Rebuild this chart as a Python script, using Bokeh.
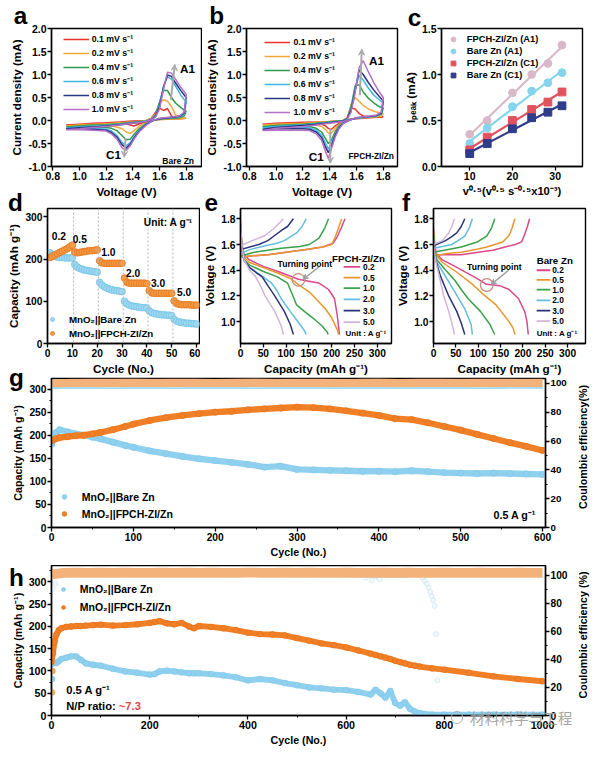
import numpy as np
from bokeh.plotting import figure
from bokeh.layouts import column, row
from bokeh.models import (Range1d, LinearAxis, Label, Legend, LegendItem, Arrow,
                          VeeHead, Span, FixedTicker, Div, PrintfTickFormatter)
from bokeh.embed import file_html
from bokeh.resources import INLINE

S = 0.973
FONT = "Liberation Sans"

# ---------------------------------------------------------------- data
SCAN_LABELS = ["0.1 mV s⁻¹", "0.2 mV s⁻¹", "0.4 mV s⁻¹", "0.6 mV s⁻¹", "0.8 mV s⁻¹", "1.0 mV s⁻¹"]
CV_COLORS = ["#e8342c", "#f2a93b", "#2f9a4c", "#3fb5e3", "#2a3580", "#b46fc6"]

# panel a : bare Zn CV (anodic sweep then cathodic sweep)
A_FWD_V = [0.9, 1.0, 1.1, 1.2, 1.3, 1.4, 1.5, 1.54, 1.57, 1.6, 1.63, 1.66, 1.69, 1.72, 1.76, 1.8]
A_FWD_I = [
    [-0.10, -0.08, -0.06, -0.05, -0.03, -0.01, 0.00, 0.05, 0.18, 0.27, 0.22, 0.26, 0.10, 0.05, 0.04, 0.05],
    [-0.12, -0.10, -0.08, -0.07, -0.05, -0.03, 0.00, 0.04, 0.15, 0.38, 0.45, 0.42, 0.30, 0.12, 0.06, 0.05],
    [-0.14, -0.12, -0.10, -0.09, -0.07, -0.04, -0.01, 0.03, 0.12, 0.40, 0.66, 0.65, 0.50, 0.38, 0.28, 0.20],
    [-0.16, -0.14, -0.12, -0.11, -0.08, -0.05, -0.01, 0.03, 0.10, 0.35, 0.75, 0.95, 0.90, 0.75, 0.55, 0.40],
    [-0.18, -0.16, -0.14, -0.12, -0.09, -0.06, -0.02, 0.02, 0.09, 0.30, 0.72, 0.99, 0.96, 0.82, 0.65, 0.50],
    [-0.20, -0.18, -0.15, -0.13, -0.10, -0.06, -0.02, 0.02, 0.08, 0.25, 0.68, 1.05, 1.03, 0.90, 0.72, 0.57],
]
A_REV_V = [1.8, 1.785, 1.75, 1.7, 1.6, 1.55, 1.5, 1.45, 1.41, 1.38, 1.35, 1.32, 1.28, 1.24, 1.2, 1.1, 1.0, 0.9]
A_REV_I = [
    [0.05, 0.05, 0.04, 0.03, 0.02, 0.00, -0.03, -0.07, -0.12, -0.10, -0.07, -0.06, -0.08, -0.07, -0.06, -0.08, -0.09, -0.10],
    [0.05, 0.05, 0.04, 0.03, 0.02, 0.00, -0.05, -0.12, -0.22, -0.28, -0.25, -0.18, -0.14, -0.12, -0.11, -0.11, -0.12, -0.12],
    [0.20, 0.10, 0.06, 0.05, 0.03, 0.00, -0.07, -0.17, -0.30, -0.41, -0.42, -0.33, -0.22, -0.17, -0.15, -0.14, -0.14, -0.14],
    [0.40, 0.14, 0.08, 0.06, 0.04, 0.00, -0.08, -0.20, -0.35, -0.48, -0.55, -0.48, -0.32, -0.23, -0.19, -0.17, -0.16, -0.16],
    [0.50, 0.16, 0.09, 0.07, 0.04, 0.00, -0.09, -0.22, -0.38, -0.52, -0.60, -0.53, -0.36, -0.26, -0.21, -0.19, -0.18, -0.18],
    [0.57, 0.18, 0.10, 0.08, 0.05, 0.00, -0.10, -0.24, -0.40, -0.55, -0.65, -0.60, -0.40, -0.29, -0.23, -0.21, -0.20, -0.20],
]
# panel b : FPCH-ZI/Zn CV
B_FWD_V = [0.9, 1.0, 1.1, 1.2, 1.3, 1.4, 1.5, 1.53, 1.56, 1.59, 1.62, 1.65, 1.69, 1.73, 1.77, 1.8]
B_FWD_I = [
    [-0.08, -0.06, -0.05, -0.04, -0.03, -0.02, 0.00, 0.05, 0.28, 0.25, 0.15, 0.10, 0.08, 0.07, 0.07, 0.08],
    [-0.10, -0.08, -0.07, -0.06, -0.04, -0.02, 0.00, 0.05, 0.35, 0.50, 0.42, 0.33, 0.25, 0.20, 0.17, 0.15],
    [-0.13, -0.11, -0.09, -0.08, -0.06, -0.03, 0.00, 0.04, 0.30, 0.75, 0.78, 0.62, 0.48, 0.38, 0.30, 0.27],
    [-0.16, -0.13, -0.11, -0.10, -0.07, -0.04, -0.01, 0.03, 0.25, 0.70, 0.98, 0.88, 0.70, 0.55, 0.45, 0.38],
    [-0.19, -0.15, -0.13, -0.11, -0.08, -0.05, -0.01, 0.03, 0.22, 0.65, 1.10, 1.00, 0.82, 0.66, 0.52, 0.43],
    [-0.22, -0.17, -0.15, -0.13, -0.10, -0.06, -0.02, 0.02, 0.18, 0.60, 1.15, 1.30, 1.05, 0.82, 0.62, 0.50],
]
B_REV_V = [1.8, 1.785, 1.75, 1.7, 1.6, 1.55, 1.5, 1.47, 1.44, 1.41, 1.39, 1.37, 1.34, 1.3, 1.25, 1.2, 1.1, 1.0, 0.9]
B_REV_I = [
    [0.08, 0.07, 0.07, 0.06, 0.04, 0.02, -0.02, -0.06, -0.12, -0.20, -0.17, -0.12, -0.08, -0.06, -0.05, -0.05, -0.06, -0.07, -0.08],
    [0.15, 0.09, 0.08, 0.07, 0.05, 0.02, -0.03, -0.09, -0.18, -0.29, -0.27, -0.20, -0.13, -0.10, -0.08, -0.08, -0.09, -0.09, -0.10],
    [0.27, 0.13, 0.10, 0.08, 0.05, 0.02, -0.04, -0.12, -0.25, -0.45, -0.50, -0.40, -0.25, -0.17, -0.13, -0.12, -0.12, -0.12, -0.13],
    [0.38, 0.15, 0.10, 0.08, 0.05, 0.01, -0.05, -0.14, -0.30, -0.52, -0.62, -0.50, -0.32, -0.21, -0.16, -0.15, -0.15, -0.15, -0.16],
    [0.43, 0.16, 0.11, 0.09, 0.06, 0.01, -0.06, -0.16, -0.33, -0.58, -0.70, -0.58, -0.37, -0.25, -0.19, -0.18, -0.18, -0.18, -0.19],
    [0.50, 0.18, 0.12, 0.10, 0.06, 0.01, -0.07, -0.18, -0.37, -0.65, -0.82, -0.68, -0.43, -0.29, -0.22, -0.21, -0.21, -0.21, -0.22],
]
CV_XTICKS = [0.8, 1.0, 1.2, 1.4, 1.6, 1.8]
CV_YTICKS = [-1.0, -0.5, 0.0, 0.5, 1.0, 1.5, 2.0]

# panel c : peak current vs sqrt(scan rate)
C_X = [10.0, 14.1, 20.0, 24.5, 28.3, 31.6]
C_FPCH_A1 = [0.35, 0.50, 0.80, 1.00, 1.12, 1.32]
C_BARE_A1 = [0.25, 0.42, 0.65, 0.82, 0.91, 1.02]
C_FPCH_C1 = [0.18, 0.32, 0.50, 0.62, 0.70, 0.81]
C_BARE_C1 = [0.14, 0.25, 0.41, 0.53, 0.59, 0.66]
C_LABELS = ["FPCH-ZI/Zn (A1)", "Bare Zn (A1)", "FPCH-ZI/Zn (C1)", "Bare Zn (C1)"]
C_COLORS = ["#d9b9c9", "#86d3ec", "#e2525e", "#2e3c8a"]

# panel d : rate capability
D_CYC = list(range(1, 61))
D_BARE = [215, 210, 207, 205, 204, 204, 203, 203, 203, 203,
          187, 181, 178, 176, 174, 173, 172, 171, 170, 169,
          145, 138, 134, 131, 129, 127, 126, 125, 124, 123,
          100, 94, 91, 89, 88, 87, 86, 85, 85, 84,
          77, 73, 71, 70, 69, 68, 68, 67, 67, 66,
          57, 53, 51, 50, 49, 48, 48, 47, 47, 46]
D_FPCH = [204, 207, 210, 213, 216, 219, 222, 225, 229, 233,
          217, 215, 216, 217, 218, 219, 220, 220, 221, 222,
          196, 191, 190, 190, 190, 190, 190, 190, 190, 190,
          155, 145, 143, 143, 143, 143, 143, 143, 143, 142,
          125, 120, 119, 119, 119, 119, 119, 119, 119, 119,
          101, 95, 93, 92, 92, 92, 92, 91, 91, 91]
D_RATES = ["0.2", "0.5", "1.0", "2.0", "3.0", "5.0"]
D_RATE_POS_X = [4.6, 13.0, 24.5, 34.5, 44.5, 55.0]
D_RATE_POS_Y = [255, 248, 217, 168, 144, 121]
D_BOUNDS = [10.5, 20.5, 30.5, 40.5, 50.5]

# panels e / f : GCD profiles (capacity, voltage) for 0.2 .. 5.0 A g-1
EF_RATES = ["0.2", "0.5", "1.0", "2.0", "3.0", "5.0"]
EF_COLORS = ["#d9488a", "#e8962e", "#3aa04a", "#62bde0", "#2b3478", "#d3b5d8"]
E_DIS_Q = [[0, 3, 8, 20, 50, 90, 127, 150, 172, 193, 206, 212, 217],
           [0, 3, 8, 20, 50, 80, 110, 130, 151, 170, 186, 200, 213, 215],
           [0, 3, 8, 20, 50, 80, 103, 115, 123, 140, 158, 178, 190, 192],
           [0, 3, 8, 20, 45, 68, 80, 89, 109, 130, 140, 144],
           [0, 3, 8, 20, 35, 47, 60, 75, 96, 109, 116],
           [0, 3, 8, 20, 33, 45, 54, 75, 89, 94]]
E_DIS_V = [[1.78, 1.60, 1.52, 1.48, 1.43, 1.38, 1.33, 1.315, 1.30, 1.25, 1.18, 1.05, 0.90],
           [1.75, 1.60, 1.50, 1.46, 1.42, 1.38, 1.335, 1.28, 1.23, 1.16, 1.10, 1.03, 0.93, 0.90],
           [1.72, 1.55, 1.48, 1.44, 1.39, 1.35, 1.30, 1.20, 1.13, 1.08, 1.03, 0.97, 0.92, 0.90],
           [1.74, 1.55, 1.47, 1.42, 1.36, 1.30, 1.24, 1.18, 1.08, 0.98, 0.93, 0.90],
           [1.76, 1.57, 1.48, 1.42, 1.38, 1.35, 1.28, 1.20, 1.08, 0.98, 0.90],
           [1.78, 1.58, 1.48, 1.40, 1.35, 1.27, 1.20, 1.08, 0.97, 0.90]]
E_CHG_Q = [[0, 20, 60, 100, 140, 180, 203, 212, 221, 229],
           [0, 20, 60, 100, 140, 180, 200, 208, 215, 222],
           [0, 30, 89, 130, 151, 172, 185, 193],
           [0, 20, 54, 80, 96, 123, 135, 144],
           [0, 20, 40, 60, 75, 90, 103, 116],
           [0, 26, 54, 75, 86, 94]]
E_CHG_V = [[1.50, 1.51, 1.52, 1.54, 1.56, 1.58, 1.61, 1.66, 1.73, 1.80],
           [1.50, 1.51, 1.52, 1.54, 1.56, 1.58, 1.60, 1.66, 1.73, 1.80],
           [1.51, 1.54, 1.57, 1.585, 1.60, 1.65, 1.73, 1.80],
           [1.53, 1.56, 1.59, 1.61, 1.63, 1.69, 1.74, 1.80],
           [1.56, 1.58, 1.60, 1.63, 1.67, 1.71, 1.74, 1.80],
           [1.59, 1.63, 1.67, 1.73, 1.77, 1.80]]
F_DIS_Q = [[0, 3, 6, 20, 48, 98, 118, 135, 148, 169, 190, 204, 209, 212],
           [0, 3, 6, 20, 50, 84, 100, 112, 140, 169, 178, 182],
           [0, 3, 8, 25, 48, 60, 77, 105, 126, 137],
           [0, 3, 8, 27, 48, 70, 84, 87],
           [0, 3, 8, 16, 34, 52, 62, 70],
           [0, 3, 7, 13, 23, 34, 41, 47]]
F_DIS_V = [[1.72, 1.60, 1.53, 1.48, 1.43, 1.335, 1.29, 1.285, 1.28, 1.25, 1.18, 1.08, 1.00, 0.90],
           [1.70, 1.58, 1.52, 1.46, 1.39, 1.30, 1.25, 1.21, 1.13, 1.00, 0.95, 0.90],
           [1.68, 1.55, 1.48, 1.41, 1.32, 1.26, 1.18, 1.08, 0.98, 0.90],
           [1.65, 1.53, 1.46, 1.35, 1.23, 1.10, 0.98, 0.90],
           [1.63, 1.52, 1.44, 1.35, 1.20, 1.08, 0.99, 0.90],
           [1.62, 1.52, 1.44, 1.35, 1.20, 1.08, 0.99, 0.90]]
F_CHG_Q = [[0, 30, 62, 100, 133, 160, 183, 197, 204, 210, 215],
           [0, 30, 62, 100, 119, 155, 169, 176, 182],
           [0, 30, 62, 98, 119, 130, 137],
           [0, 20, 41, 55, 70, 80, 87],
           [0, 27, 40, 52, 62, 70],
           [0, 20, 34, 41, 47]]
F_CHG_V = [[1.52, 1.52, 1.52, 1.54, 1.555, 1.58, 1.60, 1.62, 1.68, 1.74, 1.80],
           [1.51, 1.53, 1.54, 1.565, 1.58, 1.62, 1.67, 1.73, 1.80],
           [1.54, 1.56, 1.58, 1.62, 1.665, 1.73, 1.80],
           [1.57, 1.585, 1.60, 1.63, 1.665, 1.73, 1.80],
           [1.59, 1.63, 1.66, 1.69, 1.74, 1.80],
           [1.60, 1.63, 1.69, 1.74, 1.80]]
EF_XTICKS = [0, 50, 100, 150, 200, 250, 300]
EF_YTICKS = [1.0, 1.2, 1.4, 1.6, 1.8]

# panel g : cycling 0.5 A g-1, 600 cycles
G_CYC = [0, 5, 10, 20, 30, 40, 50, 60, 75, 90, 100, 120, 140, 160, 180, 200, 220, 240,
         260, 280, 300, 320, 340, 360, 380, 400, 420, 440, 460, 480, 500, 520, 540, 560, 580, 600]
G_BARE = [180, 205, 212, 207, 203, 200, 196, 192, 185, 178, 174, 166, 160, 154, 149, 145, 141, 137,
          131, 133, 126, 125, 124, 123, 122, 122, 121, 123, 121, 119, 118, 117, 118, 117, 116, 115]
G_FPCH = [188, 192, 195, 197, 199, 200, 203, 206, 212, 219, 224, 232, 238, 243, 247, 250, 252, 255,
          257, 259, 261, 260, 257, 253, 248, 243, 236, 234, 227, 219, 211, 202, 193, 184, 176, 167]
G_CE_CYC = [0, 25, 50, 75, 100, 125, 150, 175, 200, 225, 250, 275, 300, 325, 350, 375, 400,
            425, 450, 475, 500, 525, 550, 575, 600]
G_CE_FPCH = [99.6, 100.2, 100.4, 100.3, 100.5, 100.2, 100.4, 100.3, 100.1, 100.4, 100.5, 100.2,
             100.3, 100.4, 100.2, 100.3, 100.5, 100.1, 100.3, 100.4, 100.2, 100.3, 100.4, 100.2, 100.3]
G_CE_BARE = [96.5, 96.9, 96.8, 96.7, 96.9, 96.8, 96.7, 96.8, 96.9, 96.8, 96.7, 96.8, 96.8,
             96.9, 96.7, 96.8, 96.8, 96.7, 96.9, 96.8, 96.8, 96.7, 96.8, 96.9, 96.8]

# panel h : cycling 0.5 A g-1, N/P ~7.3, 1000 cycles
H_CYC = [0, 3, 6, 10, 15, 20, 30, 40, 50, 60, 70, 85, 100, 125, 150, 175, 200, 210, 220, 235,
         250, 265, 280, 290, 300, 325, 350, 375, 400, 425, 450, 475, 500, 525, 550, 575, 600,
         625, 650, 660, 670, 680, 690, 700, 710, 720, 730, 740, 750, 775, 800, 850, 900, 950, 1000]
H_BARE = [115, 118, 119, 118, 122, 127, 130, 133, 133, 125, 117, 114, 112, 105, 99, 96, 92, 93,
          99, 101, 99, 97, 95, 95, 95, 93, 90, 86, 79, 82, 79, 73, 68, 63, 61, 58, 57,
          53, 47, 58, 50, 40, 55, 28, 22, 30, 15, 9, 5, 2, 2, 2, 2, 2, 2]
H_FPCH = [120, 140, 165, 182, 192, 196, 199, 200, 201, 201, 202, 203, 204, 202, 203, 205, 208,
          210, 212, 207, 205, 208, 200, 196, 201, 199, 196, 192, 186, 183, 182, 180, 174, 168,
          162, 158, 153, 146, 139, 136, 133, 130, 127, 123, 120, 117, 114, 112, 110, 106, 103,
          96, 88, 82, 77]
H_OUT_CYC = [1, 2]
H_OUT_FPCH = [52, 100]
H_OUT_BARE_CYC = [1]
H_OUT_BARE = [82]
H_CE_CYC = [0, 25, 50, 75, 100, 125, 150, 175, 200, 225,
            250, 275, 300, 325, 350, 375, 400, 425, 450, 475,
            500, 525, 550, 575, 600, 625, 650, 675, 700, 725,
            750, 775, 800, 825, 850, 875, 900, 925, 950, 975, 1000]
H_CE_FPCH = [100.5, 101.6, 101.8, 101.5, 101.7, 101.6, 101.8, 101.5, 101.6, 101.7,
             101.5, 101.8, 101.6, 101.7, 101.5, 101.6, 101.8, 101.6, 101.5, 101.7,
             101.6, 101.8, 101.5, 101.6, 101.7, 101.6, 101.5, 101.8, 101.6, 101.7,
             101.5, 101.6, 101.8, 101.6, 101.5, 101.7, 101.6, 101.5, 101.7, 101.6, 101.6]
H_CE_BARE_CYC = [0, 25, 50, 75, 100, 125, 150, 175, 200, 225,
                 250, 275, 300, 325, 350, 375, 400, 425, 450, 475,
                 500, 525, 550, 575, 600, 625, 650, 675, 700, 725]
H_CE_BARE = [98.6, 99.2, 99.4, 99.3, 99.5, 99.2, 99.4, 99.3, 99.5, 99.4,
             99.3, 99.4, 99.5, 99.3, 99.4, 99.2, 99.4, 99.3, 99.5, 99.3,
             99.2, 99.4, 99.3, 99.1, 99.2, 99.0, 98.8, 99.0, 98.7, 98.5]
H_CE_BARE_SCAT_CYC = [3, 8, 640, 652, 660, 668, 755, 760, 764, 768, 771, 774, 777, 780, 783, 786]
H_CE_BARE_SCAT = [90, 94, 98, 96, 99, 97, 98, 96, 94, 91, 88, 85, 82, 78, 58, 25]

BARE_FILL, BARE_EDGE = "#9fd8f1", "#74c3e6"
FPCH_FILL, FPCH_EDGE = "#f39a45", "#e5771d"
CE_ORANGE = "#f3b27a"

# panel letters: (letter, left, baseline) in reference pixels
LETTERS = [("a", 9, 20), ("b", 210, 20), ("c", 414, 22), ("d", 3, 212), ("e", 205, 212),
           ("f", 408, 212), ("g", 4, 392), ("h", 4, 598)]
WATERMARK = "材料科学与工程"
G_RIGHT_LABEL = "Coulombic efficiency(%)"
H_RIGHT_LABEL = "Coulombic efficiency (%)"


# ---------------------------------------------------------------- helpers
def px(v):
    return f"{v * S:.2f}px"


def make_fig(cell, frame, xr, yr):
    cx0, cx1, cy0, cy1 = cell
    fx0, fx1, fy0, fy1 = frame
    W = round(S * cx1) - round(S * cx0)
    H = round(S * cy1) - round(S * cy0)
    p = figure(width=W, height=H, x_range=Range1d(*xr), y_range=Range1d(*yr),
               output_backend="svg", toolbar_location=None, title=None,
               min_border_left=round(S * (fx0 - cx0)), min_border_right=round(S * (cx1 - fx1)),
               min_border_top=round(S * (fy0 - cy0)), min_border_bottom=round(S * (cy1 - fy1)))
    p.xgrid.visible = False
    p.ygrid.visible = False
    p.outline_line_color = "black"
    p.outline_line_width = 1.4
    p.outline_line_alpha = 1.0
    p.background_fill_color = "white"
    p.border_fill_color = "white"
    return p


def style_axis(ax, tick, lab, minor=False):
    ax.axis_line_width = 1.4
    ax.axis_line_color = "black"
    ax.major_tick_line_width = 1.3
    ax.major_tick_line_color = "black"
    ax.major_tick_out = 4
    ax.major_tick_in = 0
    ax.minor_tick_line_width = 1.0
    ax.minor_tick_line_color = "black"
    ax.minor_tick_out = 2 if minor else 0
    ax.minor_tick_in = 0
    ax.major_label_text_font = FONT
    ax.major_label_text_font_style = "bold"
    ax.major_label_text_font_size = px(tick)
    ax.major_label_text_color = "black"
    ax.axis_label_text_font = FONT
    ax.axis_label_text_font_style = "bold"
    ax.axis_label_text_font_size = px(lab)
    ax.axis_label_text_color = "black"
    ax.major_label_standoff = 1
    ax.axis_label_standoff = 2


def one_decimal(ax):
    ax.formatter = PrintfTickFormatter(format="%.1f")


def text(p, x, y, t, size, color="black", align="center", baseline="middle", units="data"):
    p.add_layout(Label(x=x, y=y, x_units=units, y_units=units, text=t, text_font=FONT,
                       text_font_style="bold", text_font_size=px(size), text_color=color,
                       text_align=align, text_baseline=baseline))


def sloc(fr, x, y):
    fx0, fx1, fy0, fy1 = fr
    return ((x - fx0) * S, (fy1 - y) * S)


def legend(p, items, loc, size, gw, gh, standoff):
    leg = Legend(items=items, location=loc)
    leg.border_line_color = None
    leg.background_fill_alpha = 0
    leg.label_text_font = FONT
    leg.label_text_font_style = "bold"
    leg.label_text_font_size = px(size)
    leg.label_text_color = "black"
    leg.glyph_width = max(1, round(gw * S))
    leg.glyph_height = max(1, round(gh * S))
    leg.label_height = max(1, round(gh * S))
    leg.label_standoff = max(0, round(standoff * S))
    leg.spacing = 0
    leg.padding = 0
    leg.margin = 0
    p.add_layout(leg)


def grey_arrow(p, x0, y0, x1, y1, color="#a9a9a9", w=2.0, size=6):
    p.add_layout(Arrow(end=VeeHead(size=size, fill_color=color, line_color=color),
                       x_start=x0, y_start=y0, x_end=x1, y_end=y1,
                       line_color=color, line_width=w))


# ---------------------------------------------------------------- panel a / b
def cv_panel(cell, frame, xr, fwd_v, fwd_i, rev_v, rev_i, leg_loc):
    p = make_fig(cell, frame, xr, (-1.0, 2.0))
    items = []
    for k in range(6):
        r = p.line(fwd_v + rev_v, fwd_i[k] + rev_i[k], line_color=CV_COLORS[k], line_width=1.5)
        items.append(LegendItem(label=SCAN_LABELS[k], renderers=[r]))
    style_axis(p.xaxis[0], 10.8, 12)
    style_axis(p.yaxis[0], 10.8, 12)
    p.xaxis.ticker = FixedTicker(ticks=CV_XTICKS)
    p.yaxis.ticker = FixedTicker(ticks=CV_YTICKS)
    one_decimal(p.xaxis[0])
    one_decimal(p.yaxis[0])
    p.xaxis.axis_label = "Voltage (V)"
    p.yaxis.axis_label = "Current density (mA)"
    legend(p, items, sloc(frame, *leg_loc), 9.0, 27, 14.5, 3)
    return p


FR_A = (52, 207, 15, 160)
pa = cv_panel((0, 208, 0, 195), FR_A, (0.79, 1.915), A_FWD_V, A_FWD_I, A_REV_V, A_REV_I,
              (64, 109))
text(pa, 1.81, 1.13, "A1", 12)
text(pa, 1.255, -0.73, "C1", 12)
text(pa, 1.74, -0.88, "Bare Zn", 8.8)
grey_arrow(pa, 1.685, 0.45, 1.715, 1.22)
grey_arrow(pa, 1.345, -0.38, 1.335, -0.80)

FR_B = (249, 408, 15, 160)
pb = cv_panel((208, 411, 0, 195), FR_B, (0.78, 1.906), B_FWD_V, B_FWD_I, B_REV_V, B_REV_I,
              (268, 112))
text(pb, 1.75, 1.30, "A1", 12)
text(pb, 1.30, -0.78, "C1", 12)
text(pb, 1.71, -0.78, "FPCH-ZI/Zn", 8.6)
grey_arrow(pb, 1.625, 0.55, 1.64, 1.55)
grey_arrow(pb, 1.405, -0.18, 1.405, -0.93)

# ---------------------------------------------------------------- panel c
FR_C = (453, 598, 19, 162)
pc = make_fig((411, 603, 0, 195), FR_C, (3.4, 36.4), (0.0, 1.5))
c_items = []
for ys, col, mk, lab in zip([C_FPCH_A1, C_BARE_A1, C_FPCH_C1, C_BARE_C1], C_COLORS,
                            ["circle", "circle", "square", "square"], C_LABELS):
    k, b = np.polyfit(C_X, ys, 1)
    xs = [C_X[0], C_X[-1]]
    pc.line(xs, [k * xs[0] + b, k * xs[1] + b], line_color=col, line_width=2.2)
    r = pc.scatter(C_X, ys, marker=mk, size=8 * S, fill_color=col, line_color=col)
    c_items.append(LegendItem(label=lab, renderers=[r]))
style_axis(pc.xaxis[0], 10.8, 11.5)
style_axis(pc.yaxis[0], 10.8, 12)
pc.xaxis.ticker = FixedTicker(ticks=[10, 20, 30])
pc.yaxis.ticker = FixedTicker(ticks=[0.0, 0.5, 1.0, 1.5])
one_decimal(pc.yaxis[0])
pc.xaxis.axis_label = "v⁰·⁵(v⁰·⁵ s⁻⁰·⁵x10⁻³)"
pc.yaxis.axis_label = "Iₚₑₐₖ (mA)"
legend(pc, c_items, sloc(FR_C, 459, 75), 9.6, 12, 12.4, 8)

# ---------------------------------------------------------------- panel d
FR_D = (48, 205, 203, 344)
pd_ = make_fig((0, 206, 195, 377), FR_D, (0, 61.2), (0, 320))
for b in D_BOUNDS:
    pd_.add_layout(Span(location=b, dimension="height", line_color="#b5b5b5",
                        line_dash="2 2", line_width=1))
rb = pd_.scatter(D_CYC, D_BARE, marker="circle", size=7 * S, fill_color=BARE_FILL,
                 line_color=BARE_EDGE, line_width=0.8)
rf = pd_.scatter(D_CYC, D_FPCH, marker="circle", size=7 * S, fill_color=FPCH_FILL,
                 line_color=FPCH_EDGE, line_width=0.8)
style_axis(pd_.xaxis[0], 10.5, 12)
style_axis(pd_.yaxis[0], 10.5, 12)
pd_.xaxis.ticker = FixedTicker(ticks=[0, 10, 20, 30, 40, 50, 60])
pd_.yaxis.ticker = FixedTicker(ticks=[0, 100, 200, 300])
pd_.xaxis.axis_label = "Cycle (No.)"
pd_.yaxis.axis_label = "Capacity (mAh g⁻¹)"
for t, x, y in zip(D_RATES, D_RATE_POS_X, D_RATE_POS_Y):
    text(pd_, x, y, t, 10.5)
text(pd_, 58.5, 286, "Unit: A g⁻¹", 10.5, align="right")
legend(pd_, [LegendItem(label="MnO₂||Bare Zn", renderers=[rb]),
             LegendItem(label="MnO₂||FPCH-ZI/Zn", renderers=[rf])],
       sloc(FR_D, 48, 341), 10, 10, 14.6, 12)


# ---------------------------------------------------------------- panel e / f
def gcd_panel(cell, frame, xr, dq, dv, cq, cv, title, leg, tp_text, tp_circle, tp_arrow):
    p = make_fig(cell, frame, xr, (0.83, 1.88))
    for k in range(6):
        p.line(dq[k], dv[k], line_color=EF_COLORS[k], line_width=1.5)
        p.line(cq[k], cv[k], line_color=EF_COLORS[k], line_width=1.5)
    style_axis(p.xaxis[0], 10.5, 12)
    style_axis(p.yaxis[0], 10.5, 12)
    p.xaxis.ticker = FixedTicker(ticks=EF_XTICKS)
    p.yaxis.ticker = FixedTicker(ticks=EF_YTICKS)
    one_decimal(p.yaxis[0])
    p.xaxis.axis_label = "Capacity (mAh g⁻¹)"
    p.yaxis.axis_label = "Voltage (V)"
    # legend swatches (screen units, relative to the frame)
    gx0, gx1, lx, ys, tx, ty, ux, uy = leg
    for k in range(6):
        sx0, sy = sloc(frame, gx0, ys[k])
        sx1, _ = sloc(frame, gx1, ys[k])
        p.add_layout(Arrow(end=None, x_start=sx0, y_start=sy, x_end=sx1, y_end=sy,
                           start_units="screen", end_units="screen",
                           line_color=EF_COLORS[k], line_width=1.8))
        lxx, _ = sloc(frame, lx, ys[k])
        text(p, lxx, sy, EF_RATES[k], 8.6, align="left", units="screen")
    a, b_ = sloc(frame, tx, ty)
    text(p, a, b_, title, 10, align="left", units="screen")
    a, b_ = sloc(frame, ux, uy)
    text(p, a, b_, "Unit :  A g⁻¹", 8.2, align="left", units="screen")
    text(p, tp_text[0], tp_text[1], "Turning point", 8.8)
    p.scatter([tp_circle[0]], [tp_circle[1]], marker="circle", size=13 * S, fill_alpha=0,
              line_color="#c58d80", line_width=1.3)
    grey_arrow(p, *tp_arrow, color="#9a9a9a", w=1.4, size=5)
    return p


FR_E = (243, 402, 199, 342)
pe = gcd_panel((206, 404, 195, 377), FR_E, (0, 331), E_DIS_Q, E_DIS_V, E_CHG_Q, E_CHG_V,
               "FPCH-ZI/Zn",
               (349, 366, 369, [263.3, 274.3, 285.0, 296.7, 308.3, 320.0], 337, 255, 351, 332),
               (141, 1.45), (127, 1.325), (172, 1.425, 137, 1.33))
FR_F = (441, 601, 199, 342)
pf = gcd_panel((404, 603, 195, 377), FR_F, (0, 340), F_DIS_Q, F_DIS_V, F_CHG_Q, F_CHG_V,
               "Bare Zn",
               (547, 561, 563, [266.7, 276.7, 286.7, 297.7, 308.3, 319.0], 547, 257, 547, 332),
               (136, 1.425), (119, 1.285), (168, 1.40, 129, 1.29))

# ---------------------------------------------------------------- panel g
FR_G = (52, 565, 378, 531)
pg = make_fig((0, 603, 377, 570), FR_G, (0, 603.5), (0, 323))
pg.extra_y_ranges = {"ce": Range1d(0, 103.4)}
pg.line(G_CE_CYC, G_CE_FPCH, y_range_name="ce", line_color=CE_ORANGE, line_width=9 * S)
pg.line(G_CE_CYC, G_CE_BARE, y_range_name="ce", line_color="#a6dcf3", line_width=1.8)
pg.line(G_CYC, G_BARE, line_color="#8fd0ef", line_width=6.5 * S)
gb = pg.scatter(G_CYC, G_BARE, marker="circle", size=6.5 * S, fill_color="#8fd0ef",
                line_color="#7dc7ea", line_width=0.6)
pg.line(G_CYC, G_FPCH, line_color="#f07f25", line_width=6.5 * S)
gf = pg.scatter(G_CYC, G_FPCH, marker="circle", size=6.5 * S, fill_color="#f07f25",
                line_color="#e4721c", line_width=0.6)
g_right = LinearAxis(y_range_name="ce")
pg.add_layout(g_right, "right")
style_axis(pg.xaxis[0], 10.5, 11, minor=True)
style_axis(pg.yaxis[0], 10.5, 11, minor=True)
style_axis(g_right, 10, 11, minor=True)
pg.xaxis[0].ticker = FixedTicker(ticks=[0, 100, 200, 300, 400, 500, 600],
                                 minor_ticks=[50, 150, 250, 350, 450, 550])
pg.yaxis[0].ticker = FixedTicker(ticks=[0, 50, 100, 150, 200, 250, 300],
                                 minor_ticks=[25, 75, 125, 175, 225, 275])
g_right.ticker = FixedTicker(ticks=[0, 20, 40, 60, 80, 100], minor_ticks=[10, 30, 50, 70, 90])
pg.xaxis[0].axis_label = "Cycle (No.)"
pg.yaxis[0].axis_label = "Capacity (mAh g⁻¹)"
text(pg, 592, 28, "0.5 A g⁻¹", 11, align="right")
legend(pg, [LegendItem(label="MnO₂||Bare Zn", renderers=[gb]),
            LegendItem(label="MnO₂||FPCH-ZI/Zn", renderers=[gf])],
       sloc(FR_G, 59, 526), 10.8, 12, 17, 12)

# ---------------------------------------------------------------- panel h
FR_H = (50, 560, 570, 725)
ph = make_fig((0, 603, 570, 762), FR_H, (0, 1006), (0, 337))
ph.extra_y_ranges = {"ce": Range1d(0, 106.8)}
ph.line(H_CE_BARE_CYC, H_CE_BARE, y_range_name="ce", line_color="#bfe5f6", line_width=2)
ph.scatter(H_CE_BARE_SCAT_CYC, H_CE_BARE_SCAT, y_range_name="ce", marker="circle", size=5 * S,
           fill_color="#d8eef8", fill_alpha=0.35, line_color="#c3e3f2", line_alpha=0.6)
ph.line(H_CE_CYC, H_CE_FPCH, y_range_name="ce", line_color=CE_ORANGE, line_width=10 * S)
ph.line(H_CYC, H_BARE, line_color="#8fd0ef", line_width=6 * S)
hb = ph.scatter(H_CYC, H_BARE, marker="circle", size=6 * S, fill_color="#8fd0ef",
                line_color="#7dc7ea", line_width=0.6)
ph.scatter(H_OUT_BARE_CYC, H_OUT_BARE, marker="circle", size=6 * S, fill_color="#8fd0ef",
           line_color="#7dc7ea", line_width=0.6)
ph.line(H_CYC, H_FPCH, line_color="#f07f25", line_width=6 * S)
hf = ph.scatter(H_CYC, H_FPCH, marker="circle", size=6 * S, fill_color="#f07f25",
                line_color="#e4721c", line_width=0.6)
ph.scatter(H_OUT_CYC, H_OUT_FPCH, marker="circle", size=6 * S, fill_color="#f3a860",
           line_color="#e59a50", line_width=0.6)
h_right = LinearAxis(y_range_name="ce")
ph.add_layout(h_right, "right")
style_axis(ph.xaxis[0], 11, 11, minor=True)
style_axis(ph.yaxis[0], 11, 11, minor=True)
style_axis(h_right, 10.5, 11, minor=True)
ph.xaxis[0].ticker = FixedTicker(ticks=[0, 200, 400, 600, 800, 1000],
                                 minor_ticks=[100, 300, 500, 700, 900])
ph.yaxis[0].ticker = FixedTicker(ticks=[0, 50, 100, 150, 200, 250, 300],
                                 minor_ticks=[25, 75, 125, 175, 225, 275, 325])
h_right.ticker = FixedTicker(ticks=[0, 20, 40, 60, 80, 100], minor_ticks=[10, 30, 50, 70, 90])
ph.xaxis[0].axis_label = "Cycle (No.)"
ph.yaxis[0].axis_label = "Capacity (mAh g⁻¹)"
text(ph, 30, 57, "0.5 A g⁻¹", 11.5, align="left")
text(ph, 30, 22, "N/P ratio: ", 11.5, align="left")
text(ph, 137, 22, "~7.3", 11.5, color="#e0474c", align="left")
legend(ph, [LegendItem(label="MnO₂||Bare Zn", renderers=[hb]),
            LegendItem(label="MnO₂||FPCH-ZI/Zn", renderers=[hf])],
       sloc(FR_H, 57, 623), 10.8, 10, 18, 12)

# ---------------------------------------------------------------- overlay: letters, right labels, watermark
fs = 25 * S
parts = []
for ch, lx, ly in LETTERS:
    parts.append(
        f'<div style="position:absolute;left:{lx * S:.1f}px;top:{ly * S - 0.8465 * fs:.1f}px;'
        f'font-family:\'Liberation Sans\',Arial,sans-serif;font-weight:bold;font-size:{fs:.1f}px;'
        f'line-height:1;color:#000;white-space:nowrap;z-index:20;">{ch}</div>')
rfs = 11 * S
for lab, cx, cy in [(G_RIGHT_LABEL, 594, 454), (H_RIGHT_LABEL, 594, 647)]:
    parts.append(
        f'<div style="position:absolute;left:{cx * S:.1f}px;top:{cy * S:.1f}px;'
        f'transform:translate(-50%,-50%) rotate(-90deg);transform-origin:center;'
        f'font-family:\'Liberation Sans\',Arial,sans-serif;font-weight:bold;font-size:{rfs:.1f}px;'
        f'line-height:1;color:#000;white-space:nowrap;z-index:20;">{lab}</div>')
wfs = 15 * S
parts.append(
    f'<div style="position:absolute;left:{458 * S:.1f}px;top:{(733 - 7) * S:.1f}px;'
    f'width:{13 * S:.1f}px;height:{13 * S:.1f}px;border:1.5px solid #b0b0b0;border-radius:50%;'
    f'z-index:20;"></div>')
parts.append(
    f'<div style="position:absolute;left:{478 * S:.1f}px;top:{733 * S - 0.62 * wfs:.1f}px;'
    f'font-family:\'Noto Sans CJK SC\',sans-serif;font-size:{wfs:.1f}px;line-height:1.2;'
    f'color:#9c9c9c;opacity:0.9;white-space:nowrap;z-index:20;">{WATERMARK}</div>')
overlay = Div(text="".join(parts), width=587, height=0,
              styles={"position": "relative", "z-index": "20", "overflow": "visible"})

layout = column(overlay, row(pa, pb, pc), row(pd_, pe, pf), pg, ph)
open("out.html", "w").write(file_html(layout, INLINE))
